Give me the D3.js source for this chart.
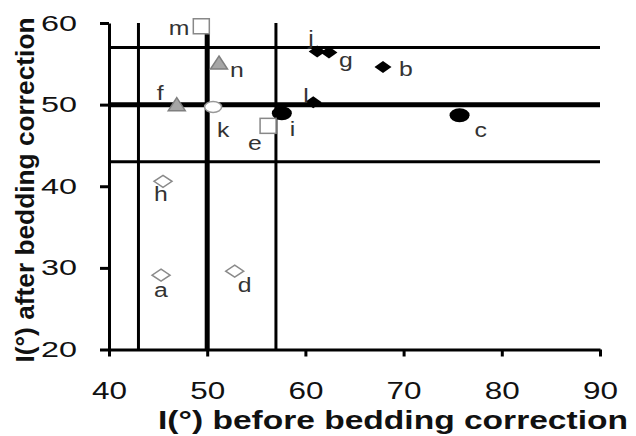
<!DOCTYPE html>
<html>
<head>
<meta charset="utf-8">
<script src="https://cdn.jsdelivr.net/npm/d3@7"></script>
<style>
  body { margin: 0; background: #fff; }
  svg { display: block; font-family: "Liberation Sans", Arial, sans-serif; }
</style>
</head>
<body>
<svg id="chart" width="636" height="436"></svg>
<script>
// point series: [label, I before, I after]
const openDiamonds  = [["a", 45.3, 29.1], ["d", 52.8, 29.6], ["h", 45.5, 40.6]];
const blackDiamonds = [["b", 67.9, 54.6], ["g", 62.4, 56.4], ["j", 61.2, 56.5], ["l", 60.8, 50.3]];
const blackCircles  = [["c", 75.7, 48.7], ["i", 57.6, 48.95]];
const openSquares   = [["e", 56.2, 47.4], ["m", 49.4, 59.6]];
const grayTriangles = [["f", 46.9, 50.0], ["n", 51.2, 55.1]];
const whiteCircles  = [["k", 50.6, 49.7]];

const xTicks = [40, 50, 60, 70, 80, 90];
const yTicks = [20, 30, 40, 50, 60];
const refLines = [43, 50, 57];   // 50 is drawn thicker

// label placement around each point (layout only)
const labelPos = {
  a: [-7, 22, "start"], d: [3, 21, "start"], h: [-9, 20, "start"],
  b: [16, 9, "start"], g: [10, 15, "start"], j: [-9, -7, "start"], l: [-10, 1, "start"],
  c: [15, 22, "start"], i: [8, 23, "start"],
  e: [-20, 24, "start"], m: [-12, 9, "end"],
  f: [-20, -5, "start"], n: [11, 14, "start"],
  k: [4, 30, "start"]
};

let svg = d3.select("#chart");
let x = d3.scaleLinear().domain([40, 90]).range([109, 600]);
let y = d3.scaleLinear().domain([20, 60]).range([349.5, 23]);

// reference lines
let grid = svg.append("g");
refLines.forEach(function(v) {
    let w = v == 50 ? 5 : 3;
    grid.append("line")
        .attr("x1", x(40)).attr("x2", x(90))
        .attr("y1", y(v)).attr("y2", y(v))
        .attr("stroke", "#000").attr("stroke-width", w);
    grid.append("line")
        .attr("x1", x(v)).attr("x2", x(v))
        .attr("y1", y(20)).attr("y2", y(60))
        .attr("stroke", "#000").attr("stroke-width", w);
});

// axes
let xAxis = svg.append("g")
    .attr("transform", "translate(0," + y(20) + ")")
    .call(d3.axisBottom(x).tickValues(xTicks).tickSize(7).tickSizeOuter(0).tickPadding(26));
let yAxis = svg.append("g")
    .attr("transform", "translate(" + x(40) + ",0)")
    .call(d3.axisLeft(y).tickValues(yTicks).tickSize(9).tickSizeOuter(0).tickPadding(23));

svg.selectAll(".domain, .tick line").attr("stroke", "#000").attr("stroke-width", 3);
xAxis.selectAll("text")
    .attr("font-size", 23).attr("fill", "#111")
    .attr("textLength", 35).attr("lengthAdjust", "spacingAndGlyphs");
yAxis.selectAll("text")
    .attr("font-size", 22).attr("fill", "#111")
    .attr("textLength", 36).attr("lengthAdjust", "spacingAndGlyphs");

// axis titles
svg.append("text")
    .attr("x", 393).attr("y", 429)
    .attr("text-anchor", "middle")
    .attr("font-size", 25).attr("font-weight", "bold").attr("fill", "#111")
    .attr("textLength", 470).attr("lengthAdjust", "spacingAndGlyphs")
    .text("I(°) before bedding correction");
svg.append("text")
    .attr("transform", "translate(34,190) rotate(-90)")
    .attr("text-anchor", "middle")
    .attr("font-size", 25).attr("font-weight", "bold").attr("fill", "#111")
    .attr("textLength", 345).attr("lengthAdjust", "spacingAndGlyphs")
    .text("I(°) after bedding correction");

// markers
let marks = svg.append("g");
function place(d) { return "translate(" + x(d[1]) + "," + y(d[2]) + ")"; }
function diamond(hw, hh) { return "M0," + (-hh) + "L" + hw + ",0L0," + hh + "L" + (-hw) + ",0Z"; }

marks.selectAll(".od").data(openDiamonds).enter().append("path")
    .attr("transform", place).attr("d", diamond(9, 6))
    .attr("fill", "#fff").attr("stroke", "#8a8a8a").attr("stroke-width", 1.5);

marks.selectAll(".bd").data(blackDiamonds).enter().append("path")
    .attr("transform", place).attr("d", diamond(8.5, 6))
    .attr("fill", "#000");

marks.selectAll(".bc").data(blackCircles).enter().append("ellipse")
    .attr("transform", place).attr("rx", 10).attr("ry", 7)
    .attr("fill", "#000");

marks.selectAll(".os").data(openSquares).enter().append("rect")
    .attr("transform", place).attr("x", -8).attr("y", -7.5).attr("width", 16).attr("height", 15)
    .attr("fill", "#fff").attr("stroke", "#888").attr("stroke-width", 1.5);

marks.selectAll(".gt").data(grayTriangles).enter().append("path")
    .attr("transform", place).attr("d", "M0,-7L8.5,6L-8.5,6Z")
    .attr("fill", "#a6a6a6").attr("stroke", "#7f7f7f").attr("stroke-width", 1.5);

marks.selectAll(".wc").data(whiteCircles).enter().append("ellipse")
    .attr("transform", place).attr("rx", 8.5).attr("ry", 5.5)
    .attr("fill", "#fff").attr("stroke", "#999").attr("stroke-width", 1.5);

// point labels
let all = [].concat(openDiamonds, blackDiamonds, blackCircles, openSquares, grayTriangles, whiteCircles);
svg.append("g").selectAll("text").data(all).enter().append("text")
    .attr("transform", function(d) {
        let p = labelPos[d[0]];
        return "translate(" + (x(d[1]) + p[0]) + "," + (y(d[2]) + p[1]) + ") scale(1.18,1)";
    })
    .attr("text-anchor", function(d) { return labelPos[d[0]][2]; })
    .attr("font-size", 21).attr("fill", "#333")
    .text(function(d) { return d[0]; });
</script>
</body>
</html>
